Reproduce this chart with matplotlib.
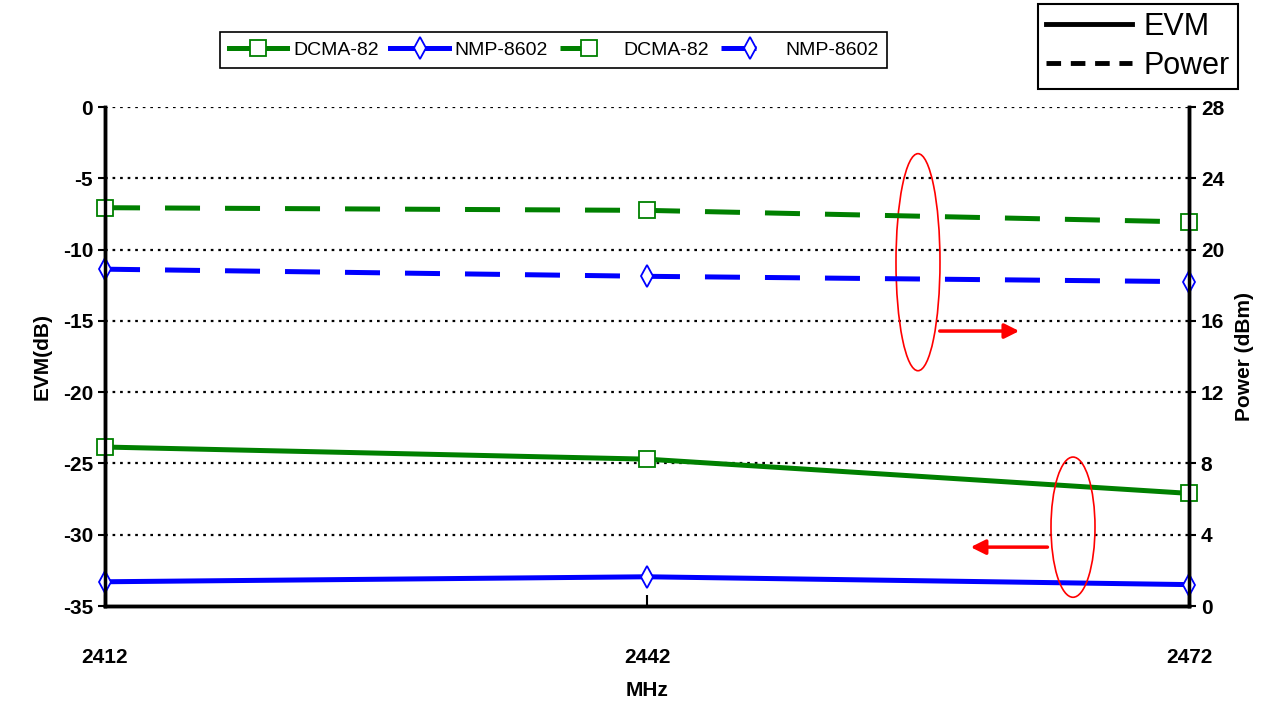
import matplotlib.pyplot as plt
from matplotlib.patches import Ellipse
from matplotlib.lines import Line2D

freq = [2412, 2442, 2472]
evm_dcma = [-23.85, -24.7, -27.1]
evm_nmp = [-33.3, -32.95, -33.5]
pwr_dcma = [22.35, 22.2, 21.55]
pwr_nmp = [18.9, 18.5, 18.2]
left_ticks = [0, -5, -10, -15, -20, -25, -30, -35]
right_ticks = [0, 4, 8, 12, 16, 20, 24, 28]

plt.rcParams['font.family'] = ['Liberation Sans', 'DejaVu Sans']
plt.rcParams['axes.unicode_minus'] = False

green = '#008000'
blue = '#0000ff'
lw = 3.6

fig = plt.figure(figsize=(12.73, 7.04), dpi=100)
ax = fig.add_axes([0.0825, 0.1392, 0.8515, 0.7088])
ax2 = ax.twinx()

l1, = ax.plot(freq, evm_dcma, color=green, lw=lw, marker='s', ms=12, mfc='white',
              mec=green, mew=1.3, label='DCMA-82', zorder=3)
l2, = ax.plot(freq, evm_nmp, color=blue, lw=lw, marker='d', ms=11, mfc='white',
              mec=blue, mew=1.3, label='NMP-8602', zorder=3)
l3, = ax2.plot(freq, pwr_dcma, color=green, lw=lw, dashes=(7, 5), marker='s', ms=12,
               mfc='white', mec=green, mew=1.3, label='DCMA-82')
l4, = ax2.plot(freq, pwr_nmp, color=blue, lw=lw, dashes=(7, 5), marker='d', ms=11,
               mfc='white', mec=blue, mew=1.3, label='NMP-8602')

for m in (l1, l2, l3, l4):
    m.set_clip_on(False)

ax.set_xlim(2412, 2472)
ax.set_ylim(-35, 0)
ax2.set_ylim(0, 28)
ax.set_xticks(freq)
ax.set_yticks(left_ticks)
ax2.set_yticks(right_ticks)

for y in left_ticks[:-1]:
    ax.axhline(y, color='black', lw=1.6, ls=(0, (1.2, 2.2)), zorder=1)

for a in (ax, ax2):
    a.spines['top'].set_visible(False)
    for s in ('left', 'right', 'bottom'):
        a.spines[s].set_linewidth(2.5)
ax.tick_params(axis='x', direction='in', length=8, width=1.5, pad=30, labelsize=15)
ax.tick_params(axis='y', direction='out', length=5, width=1.5, labelsize=15)
ax2.tick_params(axis='y', direction='out', length=5, width=1.5, labelsize=15)
for lab in ax.get_xticklabels() + ax.get_yticklabels() + ax2.get_yticklabels():
    lab.set_fontweight('bold')

ax.set_xlabel('MHz', fontsize=15, fontweight='bold', labelpad=10)
ax.set_ylabel('EVM(dB)', fontsize=15, fontweight='bold', labelpad=8)
ax2.set_ylabel('Power (dBm)', fontsize=15, fontweight='bold', labelpad=8)

# annotation ellipses and arrows
ax.add_patch(Ellipse((0.750, 0.689), 0.0406, 0.435, transform=ax.transAxes,
                     fill=False, ec='red', lw=1.2, zorder=4))
ax.annotate('', xy=(0.846, 0.551), xytext=(0.7675, 0.551), xycoords='axes fraction',
            arrowprops=dict(arrowstyle='-|>', color='red', lw=2.5, mutation_scale=22))
ax.add_patch(Ellipse((0.893, 0.158), 0.0406, 0.281, transform=ax.transAxes,
                     fill=False, ec='red', lw=1.2, zorder=4))
ax.annotate('', xy=(0.796, 0.118), xytext=(0.872, 0.118), xycoords='axes fraction',
            arrowprops=dict(arrowstyle='-|>', color='red', lw=2.5, mutation_scale=22))

leg1 = fig.legend(handles=[l1, l2, l3, l4], ncol=4, loc='center',
                  bbox_to_anchor=(0.435, 0.929), fontsize=14, frameon=True,
                  fancybox=False, edgecolor='black', framealpha=1,
                  handlelength=3.0, handletextpad=0.3, columnspacing=0.6,
                  borderpad=0.45)
leg1.get_frame().set_linewidth(1.2)

style_handles = [Line2D([], [], color='black', lw=3.5),
                 Line2D([], [], color='black', lw=3.5, dashes=(3, 2))]
leg2 = fig.legend(style_handles, ['EVM', 'Power'], loc='center',
                  bbox_to_anchor=(0.894, 0.934), fontsize=22, frameon=True,
                  fancybox=False, edgecolor='black', framealpha=1,
                  handlelength=2.8, handletextpad=0.4, borderpad=0.25,
                  labelspacing=0.3)
leg2.get_frame().set_linewidth(1.5)

fig.savefig('out.png', dpi=100)
